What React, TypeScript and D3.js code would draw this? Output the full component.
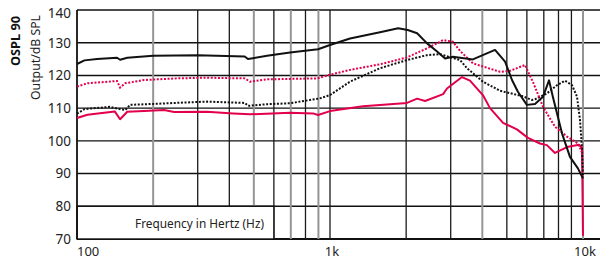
import React from 'react';
import * as d3 from 'd3';

// frequency (Hz) / output (dB SPL) pairs
const blackSolid: [number, number][] = [
  [100, 123.5], [107, 124.6], [120, 125], [144, 125.4], [148, 124.8], [158, 125.4],
  [200, 126], [300, 126.2], [460, 125.8], [474, 125], [564, 126], [695, 127],
  [897, 128], [1000, 129.3], [1200, 131.3], [1576, 133.2], [1860, 134.4], [2030, 133.9],
  [2210, 132.9], [2420, 129.8], [2650, 127.3], [2850, 125.2], [3060, 125.7], [3670, 124.9],
  [4490, 127.8], [4920, 124.2], [5240, 118.6], [5530, 115], [6000, 111], [6460, 111.3],
  [6950, 113.5], [7340, 118.5], [7600, 113.5], [8260, 102.3], [8880, 95.1], [9550, 91.6],
  [10000, 88.5],
];

const redDotted: [number, number][] = [
  [100, 116.6], [110, 117.6], [144, 118.3], [148, 116.3], [155, 117.6], [184, 118.6],
  [248, 119.1], [326, 119.3], [460, 119.1], [483, 118.1], [564, 118.8], [889, 119.1],
  [1000, 120.2], [1200, 121.7], [1576, 123.4], [2015, 125.5], [2420, 128.3], [2800, 130.8],
  [3060, 130.3], [3265, 127.5], [3670, 123.7], [4700, 121.1], [5150, 121.4], [5900, 123.2],
  [6340, 118], [6950, 110.4], [7750, 104.3], [8650, 101.3], [9500, 99.3], [9700, 98.2],
  [9950, 96],
];

const blackDotted: [number, number][] = [
  [100, 108.3], [107, 109.7], [135, 110.4], [144, 109.9], [155, 109.4], [162, 111],
  [200, 111.3], [326, 112], [460, 111.6], [475, 110.7], [564, 111.2], [695, 111.5],
  [834, 112.5], [913, 113], [1000, 114], [1200, 118.1], [1576, 122.2], [2015, 124.7],
  [2420, 126.2], [2720, 126.5], [3000, 125.5], [3265, 124.7], [3480, 122.2], [4020, 118.1],
  [4700, 115.3], [5740, 113.7], [6290, 112.5], [6460, 112.7], [7200, 114.5], [7890, 117],
  [8490, 118.4], [9050, 117], [9470, 113.5], [9730, 106.4], [9900, 98.2], [10000, 89],
];

const redSolid: [number, number][] = [
  [100, 107], [110, 108], [141, 109], [148, 106.6], [158, 108.9], [184, 109.1],
  [221, 109.4], [242, 108.8], [326, 108.9], [414, 108.4], [483, 108.1], [695, 108.6],
  [857, 108.4], [897, 107.9], [1000, 109.1], [1350, 110.6], [2015, 111.6], [2210, 112.9],
  [2375, 112.2], [2800, 114.3], [2900, 116], [3325, 119.5], [3575, 118.4], [4020, 114],
  [4290, 110], [4830, 105.5], [5480, 103.5], [6060, 100.9], [6760, 99.2], [7200, 98.7],
  [7750, 96.3], [8650, 98.1], [9640, 98.8], [9910, 97.8], [10000, 71],
];

const yTicks = [140, 130, 120, 110, 100, 90, 80, 70];
const xGrid = [200, 300, 400, 500, 600, 700, 800, 900, 1000, 2000, 3000, 4000, 5000, 6000, 7000, 8000, 9000, 10000];
const xGridLight = [200, 500, 700, 900, 4000, 10000];
const xLabels: [number, string][] = [[100, '100'], [1000, '1k'], [10000, '10k']];

const RED = '#e3004a';
const FONT = '"Noto Sans", sans-serif';

export default function App() {
  const left = 77;
  const right = 600;
  const top = 10;
  const bottom = 239;

  const x = d3.scaleLog().domain([100, 10000]).range([left, 583]);
  const y = d3.scaleLinear().domain([70, 140]).range([bottom, top]);

  const line = d3
    .line<[number, number]>()
    .x(d => x(d[0]))
    .y(d => y(d[1]));

  const boxRight = x(600);

  return (
    <svg
      width={600}
      height={260}
      style={{ position: 'absolute', left: 0, top: 0, background: '#fff' }}
      fontFamily={FONT}
    >
      {/* horizontal grid */}
      {yTicks.map(t => (
        <line key={t} x1={left} x2={right} y1={y(t)} y2={y(t)} stroke="#111" strokeWidth={t === 70 ? 1.8 : 1.4} />
      ))}

      {/* vertical grid */}
      {xGrid.map(f => {
        const light = xGridLight.includes(f);
        return (
          <line
            key={f}
            x1={x(f)}
            x2={x(f)}
            y1={top}
            y2={bottom}
            stroke={light ? '#959595' : '#1a1a1a'}
            strokeWidth={light ? 2 : 1.3}
          />
        );
      })}

      {/* axis title box */}
      <rect x={left} y={y(80)} width={boxRight - left} height={bottom - y(80)} fill="#fff" stroke="#111" strokeWidth={1.4} />
      <text
        x={264}
        y={228}
        textAnchor="end"
        fontSize={13}
        fill="#222"
        textLength={129}
        lengthAdjust="spacingAndGlyphs"
      >
        Frequency in Hertz (Hz)
      </text>

      <line x1={left} x2={left} y1={top} y2={bottom} stroke="#111" strokeWidth={1.8} />

      {/* curves */}
      <path d={line(redSolid) ?? ''} fill="none" stroke={RED} strokeWidth={2} strokeLinejoin="round" />
      <path d={line(blackDotted) ?? ''} fill="none" stroke="#111" strokeWidth={2} strokeDasharray="2 1.6" />
      <path d={line(redDotted) ?? ''} fill="none" stroke={RED} strokeWidth={2} strokeDasharray="2 1.6" />
      <path d={line(blackSolid) ?? ''} fill="none" stroke="#111" strokeWidth={2} strokeLinejoin="round" />

      {/* y tick labels */}
      {yTicks.map((t, i) => (
        <text key={t} x={71} y={y(t) + (i === 0 ? 3 : 0)} dy="0.36em" textAnchor="end" fontSize={13.5} fill="#222">
          {t}
        </text>
      ))}

      {/* x tick labels */}
      {xLabels.map(([f, label], i) => (
        <text
          key={label}
          x={i === 0 ? x(f) : x(f) + 2}
          y={255.5}
          textAnchor={i === 0 ? 'start' : 'middle'}
          fontSize={13}
          fill="#222"
        >
          {label}
        </text>
      ))}

      {/* y axis titles */}
      <text
        transform="translate(20,16) rotate(-90)"
        textAnchor="end"
        fontSize={13}
        fontWeight="bold"
        fill="#111"
        textLength={50}
        lengthAdjust="spacingAndGlyphs"
      >
        OSPL 90
      </text>
      <text
        transform="translate(39.5,15) rotate(-90)"
        textAnchor="end"
        fontSize={13}
        fill="#222"
        textLength={85}
        lengthAdjust="spacingAndGlyphs"
      >
        Output/dB SPL
      </text>
    </svg>
  );
}
